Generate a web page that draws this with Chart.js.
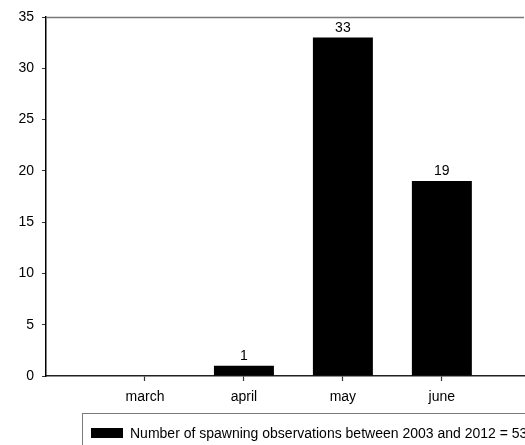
<!DOCTYPE html>
<html>
<head>
<meta charset="utf-8">
<script src="https://cdn.jsdelivr.net/npm/chart.js@4"></script>
<style>
  html, body { margin: 0; padding: 0; background: #fff; overflow: hidden; }
  #wrap { position: relative; width: 525px; height: 445px; }
  #legend {
    position: absolute; left: 82px; top: 413px; width: 500px; height: 40px;
    border: 1px solid #7a7a7a; box-sizing: border-box;
    font-family: "Liberation Sans", Arial, sans-serif; font-size: 14px; color: #000;
    white-space: nowrap;
  }
  #legend .sw { position: absolute; left: 8px; top: 14px; width: 32px; height: 10px; background: #000; }
  #legend .tx { position: absolute; left: 47px; top: 11px; line-height: 16px; }
</style>
</head>
<body>
<div id="wrap">
  <canvas id="c" width="525" height="445"></canvas>
  <div id="legend"><span class="sw"></span><span class="tx" id="legendText"></span></div>
</div>
<script>
const months = ['march', 'april', 'may', 'june'];
const counts = [0, 1, 33, 19];
const seriesLabel = 'Number of spawning observations between 2003 and 2012 = 53';
const yTicks = [0, 5, 10, 15, 20, 25, 30, 35];

document.getElementById('legendText').textContent = seriesLabel;

const FONT = 'Liberation Sans, Arial, sans-serif';

const frame = {
  id: 'frame',
  afterDraw(chart) {
    const { ctx, chartArea } = chart;
    ctx.save();
    ctx.strokeStyle = '#7a7a7a';
    ctx.lineWidth = 1.5;
    ctx.beginPath();
    ctx.moveTo(chartArea.left, chartArea.top + 0.5);
    ctx.lineTo(chartArea.right, chartArea.top + 0.5);
    ctx.stroke();
    ctx.restore();
  }
};

const valueLabels = {
  id: 'valueLabels',
  afterDatasetsDraw(chart) {
    const { ctx } = chart;
    const meta = chart.getDatasetMeta(0);
    ctx.save();
    ctx.fillStyle = '#000';
    ctx.font = '14px ' + FONT;
    ctx.textAlign = 'center';
    ctx.textBaseline = 'alphabetic';
    meta.data.forEach((el, i) => {
      const v = counts[i];
      if (v > 0) ctx.fillText(String(v), el.x, el.y - 6);
    });
    ctx.restore();
  }
};

new Chart(document.getElementById('c'), {
  type: 'bar',
  data: {
    datasets: [{
      label: seriesLabel,
      data: months.map((m, i) => ({ x: i + 1, y: counts[i] })),
      backgroundColor: '#000',
      borderWidth: 0,
      categoryPercentage: 1,
      barPercentage: 0.606
    }]
  },
  options: {
    responsive: false,
    animation: false,
    events: [],
    layout: { padding: { left: 0, right: 1, top: 17, bottom: 40 } },
    plugins: { legend: { display: false }, tooltip: { enabled: false } },
    scales: {
      x: {
        type: 'linear',
        offset: false,
        min: 0,
        max: 4.83,
        afterBuildTicks(scale) { scale.ticks = months.map((m, i) => ({ value: i + 1 })); },
        afterFit(scale) { scale.height = 29; },
        ticks: {
          callback: (v) => months[v - 1] || '',
          color: '#000',
          font: { family: FONT, size: 14 },
          padding: 8,
          maxRotation: 0,
          autoSkip: false
        },
        grid: { display: true, offset: false, drawOnChartArea: false, drawTicks: true, tickLength: 5, tickColor: '#333', tickWidth: 1.2, color: '#333' },
        border: { display: true, color: '#222', width: 1.5 }
      },
      y: {
        min: 0,
        max: 35,
        afterBuildTicks(scale) { scale.ticks = yTicks.map(v => ({ value: v })); },
        afterFit(scale) { scale.width = 46; },
        ticks: {
          color: '#000',
          font: { family: FONT, size: 14 },
          padding: 8
        },
        grid: { display: true, drawOnChartArea: false, drawTicks: true, tickLength: 4, color: '#333' },
        border: { display: true, color: '#000', width: 1.5 }
      }
    }
  },
  plugins: [frame, valueLabels]
});
</script>
</body>
</html>
